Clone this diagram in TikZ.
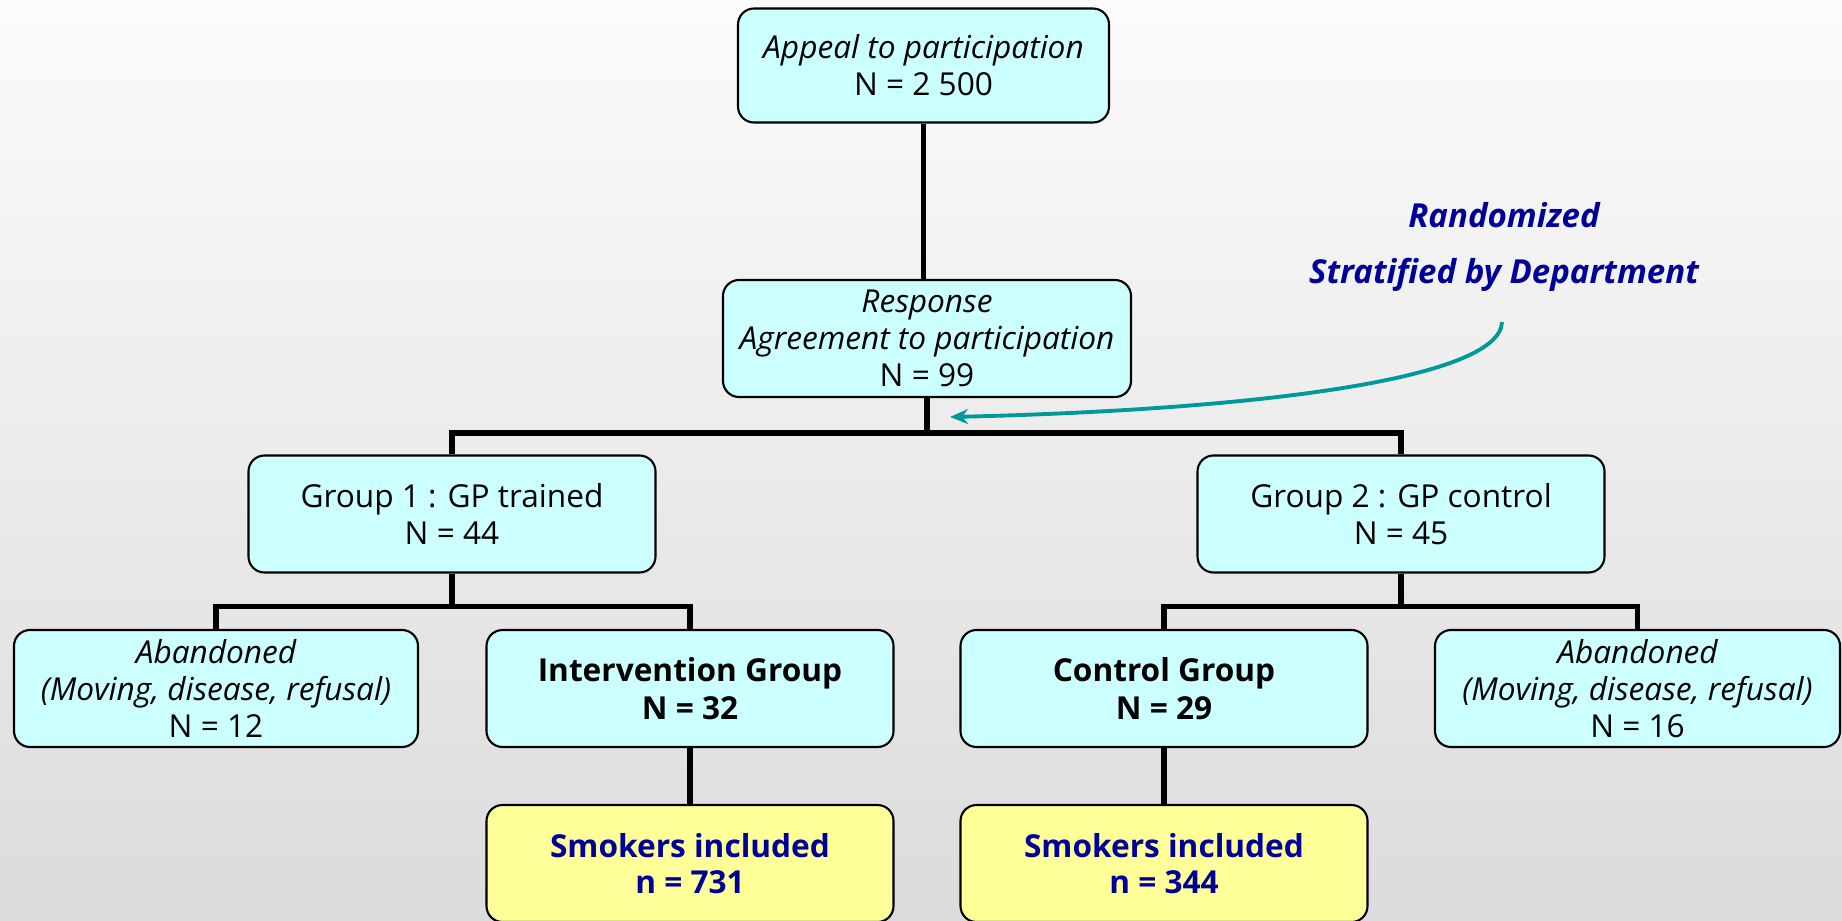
\documentclass[tikz,border=0pt]{standalone}
\usepackage{fontspec}
\setmainfont{Open Sans}
\usetikzlibrary{arrows.meta}

\definecolor{boxcyan}{HTML}{CCFFFF}
\definecolor{boxyellow}{HTML}{FFFF99}
\definecolor{navy}{HTML}{000099}
\definecolor{tealline}{HTML}{009999}

\tikzset{
  box/.style={draw, line width=0.6pt, rounded corners=0.16cm, fill=boxcyan,
    minimum width=4.07cm, minimum height=1.17cm, inner sep=0pt, align=center,
    font=\fontsize{9}{10.6}\selectfont},
  smokebox/.style={box, fill=boxyellow, text=navy, font=\fontsize{9}{10.2}\selectfont\bfseries},
  link/.style={line width=1.5pt},
  note/.style={text=navy, font=\fontsize{9.4}{10}\selectfont\bfseries\itshape}
}

\begin{document}
\begin{tikzpicture}
    \clip (0,0) rectangle (18.42,9.2);
    \shade[top color=gray!3, bottom color=gray!28] (0,0) rectangle (18.42,9.2);
    \node[box, minimum width=3.71cm, minimum height=1.14cm] (appeal) at (9.235,8.545)
    {{\itshape Appeal to participation}\\N = 2 500};
    \node[box, minimum width=4.08cm] (response) at (9.27,5.815)
    {{\itshape Response}\\{\itshape Agreement to participation}\\N = 99};
    \node[box] (group1) at (4.52,4.06) {Group 1 : GP trained\\N = 44};
    \node[box] (group2) at (14.01,4.06) {Group 2 : GP control\\N = 45};
    \node[box, minimum width=4.04cm] (aband1) at (2.16,2.315)
    {{\itshape Abandoned}\\{\itshape (Moving, disease, refusal)}\\N = 12};
    \node[box, font=\fontsize{9}{11}\selectfont\bfseries] (interv) at (6.90,2.315)
    {Intervention Group\\N = 32};
    \node[box, font=\fontsize{9}{11}\selectfont\bfseries] (control) at (11.64,2.315)
    {Control Group\\N = 29};
    \node[box, minimum width=4.05cm] (aband2) at (16.375,2.315)
    {{\itshape Abandoned}\\{\itshape (Moving, disease, refusal)}\\N = 16};
    \node[smokebox] (smoke1) at (6.90,0.565) {Smokers included\\n = 731};
    \node[smokebox] (smoke2) at (11.64,0.565) {Smokers included\\n = 344};
    \node[note] (rand) at (15.04,7.05) {Randomized};
    \node[note] (strat) at (15.04,6.45) {Stratified by Department};

    \draw[link] (appeal.south) -- (appeal.south |- response.north);
    \draw[link] (response.south) -- ++(0,-0.35) coordinate (split);
    \draw[link] (group1.north) |- (split) -| (group2.north);
    \draw[link] (group1.south) -- ++(0,-0.33) coordinate (split1);
    \draw[link] (aband1.north) |- (split1) -| (interv.north);
    \draw[link] (group2.south) -- ++(0,-0.33) coordinate (split2);
    \draw[link] (control.north) |- (split2) -| (aband2.north);
    \draw[link] (interv.south) -- (smoke1.north);
    \draw[link] (control.south) -- (smoke2.north);

    \coordinate (rstart) at (15.02,5.98);
    \coordinate (rend) at (9.50,5.03);
    \draw[tealline, line width=1.1pt, -{Stealth[length=0.18cm,width=0.15cm]}]
      (rstart) .. controls (15.0,5.4) and (12.5,5.1) .. (rend);
\end{tikzpicture}
\end{document}
